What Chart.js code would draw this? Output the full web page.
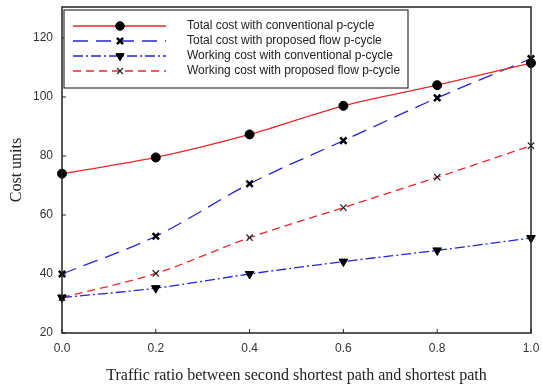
<!DOCTYPE html>
<html><head><meta charset="utf-8">
<script src="https://cdn.jsdelivr.net/npm/chart.js@4/dist/chart.umd.min.js"></script>
<style>html,body{margin:0;padding:0;background:#fff}#w{width:542px;height:388px}</style>
</head><body><div id="w"><canvas id="c" width="542" height="388"></canvas></div>
<script>
const ratios = [0.0, 0.2, 0.4, 0.6, 0.8, 1.0];
const totalConventional = [74, 79.5, 87.3, 97, 104, 111.5];
const totalProposed = [40, 52.8, 70.6, 85.2, 99.7, 113];
const workingConventional = [32, 35.2, 40, 44.2, 48, 52.2];
const workingProposed = [32, 40.2, 52.3, 62.5, 72.8, 83.5];
const seriesNames = [
  'Total cost with conventional p-cycle',
  'Total cost with proposed flow p-cycle',
  'Working cost with conventional p-cycle',
  'Working cost with proposed flow p-cycle'
];
const yTicks = [20, 40, 60, 80, 100, 120];
const xTicks = [0.0, 0.2, 0.4, 0.6, 0.8, 1.0];

const RED = '#e8282c', BLUE = '#2424d8';
function pts(arr){ return arr.map((v,i)=>({x:ratios[i], y:v})); }

const datasets = [
  {label:seriesNames[0], data:pts(totalConventional), borderColor:RED, borderWidth:1.3, borderDash:[],
   pointStyle:'circle', pointRadius:4.5, pointBackgroundColor:'#000', pointBorderColor:'#000', pointBorderWidth:1, pointRotation:0},
  {label:seriesNames[1], data:pts(totalProposed), borderColor:BLUE, borderWidth:1.3, borderDash:[15,8],
   pointStyle:'crossRot', pointRadius:4.5, pointBackgroundColor:'#000', pointBorderColor:'#000', pointBorderWidth:2.5, pointRotation:0},
  {label:seriesNames[2], data:pts(workingConventional), borderColor:BLUE, borderWidth:1.3, borderDash:[10,3,2,3],
   pointStyle:'triangle', pointRadius:5, pointBackgroundColor:'#000', pointBorderColor:'#000', pointBorderWidth:1, pointRotation:180},
  {label:seriesNames[3], data:pts(workingProposed), borderColor:RED, borderWidth:1.3, borderDash:[8,5],
   pointStyle:'crossRot', pointRadius:4.5, pointBackgroundColor:'#222', pointBorderColor:'#222', pointBorderWidth:1.2, pointRotation:0}
];
datasets.forEach(d=>{ d.tension=0.4; d.cubicInterpolationMode='monotone'; d.fill=false; d.clip=false; });

const frame = {
  id:'frame',
  afterDatasetsDraw(chart){
    const ctx=chart.ctx, a=chart.chartArea;
    const xs=chart.scales.x, ys=chart.scales.y;
    ctx.save();
    ctx.strokeStyle='#222'; ctx.lineWidth=1.5;
    ctx.strokeRect(a.left, a.top, a.right-a.left, a.bottom-a.top);
    ctx.lineWidth=1;
    xTicks.forEach(t=>{ const x=xs.getPixelForValue(t); ctx.beginPath(); ctx.moveTo(x,a.bottom); ctx.lineTo(x,a.bottom-4); ctx.stroke(); });
    yTicks.forEach(t=>{ const y=ys.getPixelForValue(t); ctx.beginPath(); ctx.moveTo(a.left,y); ctx.lineTo(a.left+4,y); ctx.stroke(); });
    // legend
    const bx=a.left+2, by=a.top+3, bw=344, bh=78;
    ctx.fillStyle='#fff'; ctx.fillRect(bx,by,bw,bh);
    ctx.strokeStyle='#333'; ctx.lineWidth=1.2; ctx.strokeRect(bx,by,bw,bh);
    chart.data.datasets.forEach((d,i)=>{
      const y=by+16+i*15;
      ctx.strokeStyle=d.borderColor; ctx.lineWidth=1.3; ctx.setLineDash(d.borderDash);
      ctx.beginPath(); ctx.moveTo(bx+9,y); ctx.lineTo(bx+102,y); ctx.stroke();
      ctx.setLineDash([]);
      ctx.fillStyle=d.pointBackgroundColor; ctx.strokeStyle=d.pointBorderColor; ctx.lineWidth=d.pointBorderWidth;
      Chart.helpers.drawPoint(ctx,{pointStyle:d.pointStyle, radius:d.pointRadius*0.95, rotation:d.pointRotation, borderWidth:d.pointBorderWidth}, bx+56, y);
      ctx.fillStyle='#222'; ctx.font='12px "Liberation Sans", Arial, sans-serif'; ctx.textBaseline='middle'; ctx.textAlign='left';
      ctx.fillText(d.label, bx+123, y);
    });
    ctx.restore();
  }
};

new Chart(document.getElementById('c'), {
  type:'line',
  data:{datasets},
  options:{
    responsive:false, animation:false, devicePixelRatio:1,
    layout:{padding:{top:6, right:11, bottom:0, left:0}},
    plugins:{legend:{display:false}, tooltip:{enabled:false}},
    scales:{
      x:{type:'linear', min:0, max:1,
        afterBuildTicks(s){ s.ticks = xTicks.map(v=>({value:v})); },
        afterFit(s){ s.height=55; s.paddingLeft=0; s.paddingRight=0; },
        grid:{display:false, drawTicks:false}, border:{display:false},
        ticks:{padding:8, color:'#333', font:{family:'"Liberation Sans", Arial, sans-serif', size:12}, callback:v=>v.toFixed(1), maxRotation:0},
        title:{display:true, text:'Traffic ratio between second shortest path and shortest path', color:'#222',
          font:{family:'"Liberation Serif", "Times New Roman", serif', size:16}, padding:{top:0,bottom:3}}
      },
      y:{type:'linear', min:20, max:130.5,
        afterBuildTicks(s){ s.ticks = yTicks.map(v=>({value:v})); },
        afterFit(s){ s.width=62; s.paddingTop=0; s.paddingBottom=0; },
        grid:{display:false, drawTicks:false}, border:{display:false},
        ticks:{padding:9, color:'#333', font:{family:'"Liberation Sans", Arial, sans-serif', size:12}},
        title:{display:true, text:'Cost units', color:'#222',
          font:{family:'"Liberation Serif", "Times New Roman", serif', size:16}, padding:{top:7,bottom:0}}
      }
    }
  },
  plugins:[frame]
});
</script></body></html>
